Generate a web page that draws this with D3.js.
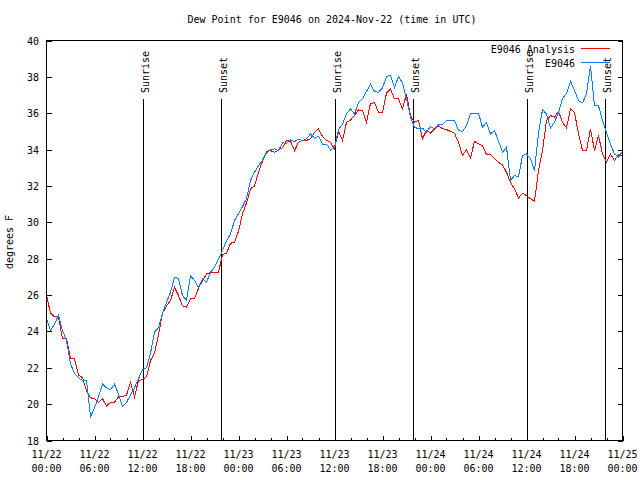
<!DOCTYPE html>
<html><head><meta charset="utf-8">
<script src="https://cdn.jsdelivr.net/npm/d3@7"></script>
<style>body{margin:0;background:#fff}svg{display:block}</style>
</head><body>
<svg id="chart" width="640" height="480"></svg>
<script>
const chartTitle = "Dew Point for E9046 on 2024-Nov-22 (time in UTC)";
const yAxisLabel = "degrees F";
const seriesNames = ["E9046 Analysis", "E9046"];
const seriesColors = ["#ff0000", "#0080ff"];
const startTime = "2024-11-22T00:00:00Z";
const endTime = "2024-11-25T00:00:00Z";
const stepMinutes = 30;
const analysisValues = [
  26.0,25.0,24.8,24.8,23.6,23.6,22.5,22.5,21.6,21.45,20.75,20.35,20.3,20.1,20.3,19.9,20.1,20.1,20.4,20.4,
  20.5,21.2,20.4,21.3,21.35,21.5,22.4,22.8,23.8,25.0,25.4,25.7,26.43,25.97,25.4,25.33,25.8,25.8,26.37,26.8,
  27.16,27.25,27.25,27.25,28.23,28.3,28.85,28.9,29.51,30.47,31.05,31.84,32.0,32.75,33.36,33.9,33.95,33.85,33.98,34.1,
  34.5,34.46,33.95,34.4,34.5,34.5,34.6,34.95,35.14,34.72,34.5,34.4,34.04,35.0,34.5,35.5,35.63,35.87,36.18,36.15,
  35.5,36.55,36.57,36.06,36.06,37.1,37.34,36.79,36.79,36.24,37.06,35.87,35.5,35.6,34.6,35.05,34.9,35.14,35.3,35.15,
  35.1,35.0,34.9,34.4,33.67,34.0,33.54,34.46,34.31,34.22,33.73,33.73,33.5,33.3,33.16,32.75,32.2,31.84,31.34,31.6,
  31.47,31.3,31.16,32.85,33.95,35.6,35.87,35.78,36.1,35.5,35.2,36.24,36.05,34.86,33.95,33.95,35.14,33.95,34.77,33.76,
  33.3,33.76,33.4,33.72,33.67
];
const observedValues = [
  24.7,24.05,24.4,24.9,24.05,23.5,22.2,21.7,21.45,21.3,21.3,19.3,19.8,20.4,21.1,20.9,20.8,21.1,20.55,19.86,
  20.1,20.5,20.9,21.4,21.9,22.0,22.8,23.96,24.2,25.0,25.6,26.15,26.98,26.9,25.97,25.7,27.07,26.8,26.43,26.9,
  26.7,27.25,27.53,27.99,28.45,29.0,29.36,30.1,30.47,30.87,31.3,32.3,32.75,33.12,33.4,33.8,33.98,34.04,33.95,34.37,
  34.35,34.53,34.44,34.57,34.5,34.59,34.86,34.62,34.73,34.3,34.3,33.98,34.1,35.1,35.4,35.96,36.24,35.96,36.6,36.8,
  37.2,37.6,37.2,37.15,37.4,38.02,38.1,37.43,38.02,37.67,36.79,35.78,35.23,35.14,35.18,34.95,35.27,35.14,35.38,35.38,
  35.6,35.6,35.6,35.05,35.0,35.32,35.96,36.0,36.0,35.23,35.5,34.86,35.05,34.46,33.85,34.13,32.3,32.57,32.5,33.67,
  33.76,33.5,32.85,34.9,36.2,35.96,35.2,35.5,36.05,36.8,37.1,37.76,37.25,36.7,36.57,37.06,38.6,36.42,36.42,35.6,
  34.95,34.27,33.76,33.58,33.9
];
const sunriseTimes = ["2024-11-22T12:04:00Z","2024-11-23T12:05:00Z","2024-11-24T12:06:00Z"];
const sunsetTimes  = ["2024-11-22T21:50:00Z","2024-11-23T21:49:00Z","2024-11-24T21:48:00Z"];
const yTickValues = [18,20,22,24,26,28,30,32,34,36,38,40];

const FONT = "'DejaVu Sans Mono', monospace";
const svg = d3.select("#chart");
const L = 46.5, R = 622.5, T = 40.5, B = 440.5;
const t0 = new Date(startTime), t1 = new Date(endTime);
const x = d3.scaleUtc().domain([t0, t1]).range([L, R]);
const y = d3.scaleLinear().domain([18, 40]).range([B, T]);

const timeAt = i => new Date(t0.getTime() + i * stepMinutes * 60000);

// title
svg.append("text").attr("x", 332).attr("y", 23).attr("text-anchor", "middle")
  .attr("font-family", FONT).attr("font-size", 10).text(chartTitle);
// y label
svg.append("text").attr("transform", "translate(13,242) rotate(-90)").attr("text-anchor", "middle")
  .attr("font-family", FONT).attr("font-size", 10).text(yAxisLabel);

const g = svg.append("g");

// sunrise / sunset markers
const markers = sunriseTimes.map(s => ({t: new Date(s), label: "Sunrise"}))
  .concat(sunsetTimes.map(s => ({t: new Date(s), label: "Sunset"})));
markers.forEach(m => {
  const mx = Math.round(x(m.t)) + 0.5;
  g.append("line").attr("x1", mx).attr("x2", mx).attr("y1", 99).attr("y2", B)
    .attr("stroke", "#000").attr("stroke-width", 1).attr("shape-rendering", "crispEdges");
  g.append("text").attr("transform", `translate(${mx + 5},93) rotate(-90)`)
    .attr("font-family", FONT).attr("font-size", 10).attr("text-anchor", "start").text(m.label);
});

// data lines
const line = d3.line().x((d, i) => x(timeAt(i))).y(d => y(d));
[analysisValues, observedValues].forEach((vals, k) => {
  g.append("path").datum(vals).attr("d", line).attr("fill", "none")
    .attr("stroke", seriesColors[k]).attr("stroke-width", 1).attr("shape-rendering", "crispEdges");
});

// border
svg.append("rect").attr("x", L).attr("y", T).attr("width", R - L).attr("height", B - T)
  .attr("fill", "none").attr("stroke", "#000").attr("shape-rendering", "crispEdges");

// x axis ticks
const major = d3.utcHour.every(6).range(t0, new Date(t1.getTime() + 1));
const minor = d3.utcHour.every(2).range(t0, new Date(t1.getTime() + 1));
minor.forEach(t => {
  const tx = Math.round(x(t)) + 0.5;
  const isMajor = t.getUTCHours() % 6 === 0;
  svg.append("line").attr("x1", tx).attr("x2", tx).attr("y1", B).attr("y2", B - (isMajor ? 5 : 3))
    .attr("stroke", "#000").attr("shape-rendering", "crispEdges");
});
const fDay = d3.utcFormat("%m/%d"), fHour = d3.utcFormat("%H:%M");
major.forEach(t => {
  const tx = x(t);
  const tt = svg.append("text").attr("font-family", FONT).attr("font-size", 10).attr("text-anchor", "middle");
  tt.append("tspan").attr("x", tx).attr("y", 458).text(fDay(t));
  tt.append("tspan").attr("x", tx).attr("y", 472).text(fHour(t));
});

// y axis ticks (mirrored)
yTickValues.forEach(v => {
  const ty = Math.round(y(v)) + 0.5;
  svg.append("line").attr("x1", L).attr("x2", L + 5).attr("y1", ty).attr("y2", ty)
    .attr("stroke", "#000").attr("shape-rendering", "crispEdges");
  svg.append("line").attr("x1", R).attr("x2", R - 5).attr("y1", ty).attr("y2", ty)
    .attr("stroke", "#000").attr("shape-rendering", "crispEdges");
  svg.append("text").attr("x", 39).attr("y", y(v) + 4).attr("text-anchor", "end")
    .attr("font-family", FONT).attr("font-size", 10).text(v);
});

// legend
seriesNames.forEach((name, k) => {
  const ly = 48.5 + k * 14;
  svg.append("text").attr("x", 575).attr("y", ly + 4).attr("text-anchor", "end")
    .attr("font-family", FONT).attr("font-size", 10).text(name);
  svg.append("line").attr("x1", 581).attr("x2", 610).attr("y1", ly).attr("y2", ly)
    .attr("stroke", seriesColors[k]).attr("shape-rendering", "crispEdges");
});
</script>
</body></html>
